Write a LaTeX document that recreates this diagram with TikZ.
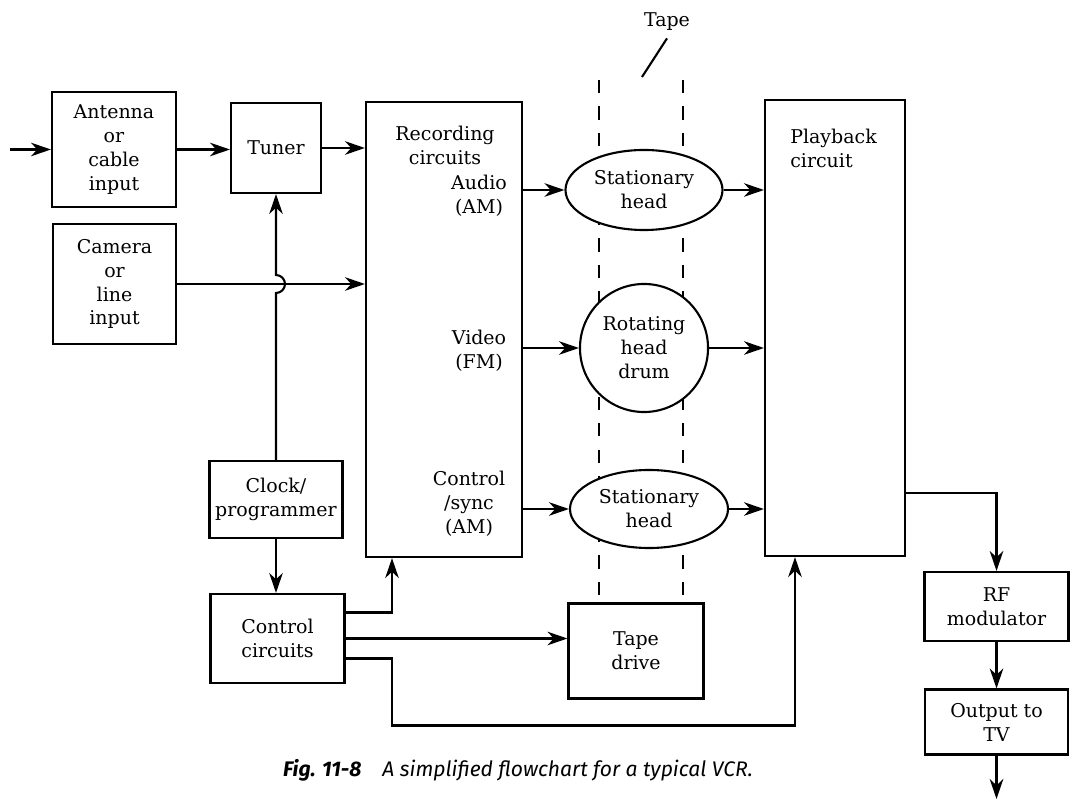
\documentclass[tikz,border=0pt]{standalone}
\usepackage{fontspec}
\setmainfont{DejaVu Serif}
\newfontfamily\capfont{Fira Sans}
\usetikzlibrary{arrows.meta}
\usetikzlibrary{shapes.geometric}
\usetikzlibrary{calc}

\begin{document}
\begin{tikzpicture}[x=0.025cm, y=-0.025cm,
    font=\fontsize{13.5}{17}\selectfont,
    blk/.style={draw, fill=white, align=center, inner sep=0pt, line width=1.5pt},
    head/.style={blk, ellipse},
    lbl/.style={inner sep=0pt, align=center},
    arr/.style={-{Stealth[length=5mm,width=3.4mm,inset=1.6mm]}, line width=1.5pt},
    tapeline/.style={line width=1.3pt, dash pattern=on 0.33cm off 0.33cm}]
  \useasboundingbox (0,0) rectangle (1070,799);

  \draw[tapeline] (599,80) -- (599,603);
  \draw[tapeline] (683,80) -- (683,603);

  \node[blk, minimum width=3.1cm, minimum height=2.875cm] (ant) at (114,149.5) {Antenna\\or\\cable\\input};
  \node[blk, minimum width=2.25cm, minimum height=2.25cm] (tun) at (276,148) {Tuner};
  \node[blk, minimum width=3.075cm, minimum height=3cm] (cam) at (114.5,284) {Camera\\or\\line\\input};
  \node[blk, minimum width=3.325cm, minimum height=1.925cm] (clk) at (276,499.5) {Clock/\\programmer};
  \node[blk, minimum width=3.35cm, minimum height=2.225cm] (ctl) at (277.5,638.5) {Control\\circuits};

  \node[blk, minimum width=3.9cm, minimum height=11.375cm] (rec) at (444,329.5) {};
  \node[lbl] (rectxt) at (445,145) {Recording\\circuits};
  \node[lbl] (audio) at (479,196) {Audio\\(AM)};
  \node[lbl] (video) at (479,351) {Video\\(FM)};
  \node[lbl] (sync) at (469,504) {Control\\/sync\\(AM)};

  \node[head, minimum width=3.925cm, minimum height=2cm] (st1) at (644,190) {Stationary\\head};
  \node[blk, circle, minimum size=3.2cm] (drum) at (644,348) {Rotating\\head\\drum};
  \node[head, minimum width=3.95cm, minimum height=1.95cm] (st2) at (649,509) {Stationary\\head};
  \node[blk, minimum width=3.375cm, minimum height=2.375cm] (drv) at (636,651) {Tape\\drive};

  \node[blk, minimum width=3.5cm, minimum height=11.4cm] (play) at (835,328) {};
  \node[lbl, anchor=west, align=left] (playtxt) at (790,148.5) {Playback\\circuit};

  \node[blk, minimum width=3.6cm, minimum height=1.725cm] (rf) at (996.5,606.5) {RF\\modulator};
  \node[blk, minimum width=3.575cm, minimum height=1.625cm] (out) at (996.5,722) {Output to\\TV};

  \node[lbl] (tape) at (667,22) {Tape};
  \coordinate (tapept) at (642,77);
  \coordinate (in) at (10,149.5);
  \coordinate (tv) at (996.5,799);

  \draw[line width=1.5pt] ([yshift=-0.18cm]tape.south) -- (tapept);

  \draw[arr] (in) -- (ant.west);
  \draw[arr] (ant.east) -- (ant.east -| tun.west);
  \draw[arr] (tun.east) -- (tun.east -| rec.west);
  \draw[arr] (cam.east) -- (cam.east -| rec.west);
  \draw[arr] (clk.north) -- ($(clk.north |- cam.east)+(0,9)$)
    arc[start angle=90, end angle=-90, radius=9] -- (tun.south);
  \draw[arr] (clk.south) -- (clk.south |- ctl.north);

  \draw[arr] (st1.west -| rec.east) -- (st1.west);
  \draw[arr] (drum.west -| rec.east) -- (drum.west);
  \draw[arr] (st2.west -| rec.east) -- (st2.west);
  \draw[arr] (st1.east) -- (st1.east -| play.west);
  \draw[arr] (drum.east) -- (drum.east -| play.west);
  \draw[arr] (st2.east) -- (st2.east -| play.west);

  \draw[arr] ([yshift=0.65cm]ctl.east) -| ([xshift=-1.3cm]rec.south);
  \draw[arr] (ctl.east) -- (ctl.east -| drv.west);
  \draw[arr] ([yshift=-0.5cm]ctl.east) -| ++(1.15cm,-1.675cm) -| ([xshift=-1cm]play.south);

  \draw[arr] ([yshift=-4.125cm]play.east) -| (rf.north);
  \draw[arr] (rf.south) -- (out.north);
  \draw[arr] (out.south) -- (tv);

  \node[font=\capfont\itshape\fontsize{15}{18}\selectfont, inner sep=0pt] (cap) at (518,770)
    {\textbf{Fig. 11-8}\quad A simplified flowchart for a typical VCR.};
\end{tikzpicture}
\end{document}
